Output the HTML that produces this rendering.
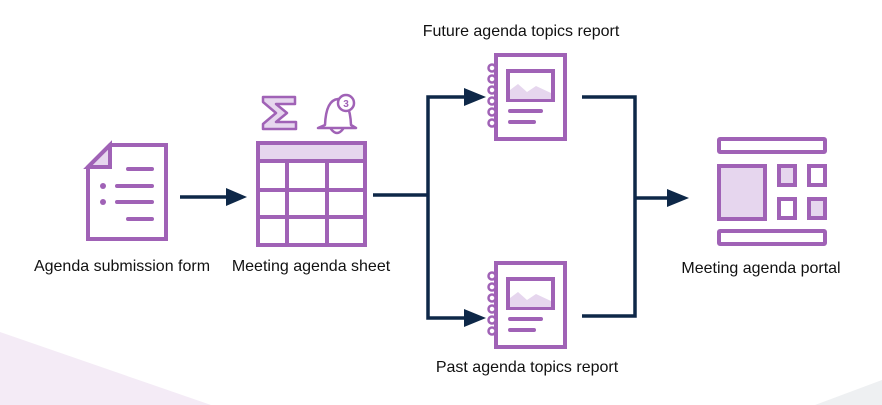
<!DOCTYPE html>
<html><head><meta charset="utf-8"><style>
html,body{margin:0;padding:0;background:#fff;}
svg{display:block;}
text{font-family:"Liberation Sans",sans-serif;font-size:16px;fill:#111;}
</style></head><body>
<svg width="882" height="405" viewBox="0 0 882 405">
<polygon points="0,332 211,405 0,405" fill="#f4ebf6"/>
<polygon points="815,405 882,380 882,405" fill="#eef0f2"/>
<g stroke="#0e2848" stroke-width="3.5" fill="none">
<line x1="180" y1="197" x2="228" y2="197"/>
<polyline points="373,195 428,195"/>
<polyline points="466,97 428,97 428,318 466,318"/>
<polyline points="582,97 635,97 635,316 582,316"/>
<line x1="635" y1="198" x2="670" y2="198"/>
</g>
<g fill="#0e2848">
<polygon points="226,188 247,197 226,206"/>
<polygon points="464,88 486,97 464,106"/>
<polygon points="464,309 486,318 464,327"/>
<polygon points="667,189 689,198 667,207"/>
</g>
<g stroke="#a062b6" stroke-width="4" fill="none" stroke-linecap="round">
<!-- document -->
<path d="M110,145 L166,145 L166,239 L88,239 L88,167 Z" fill="#fff"/>
<path d="M110,145 L110,167 L88,167 Z" fill="#e6d6ee"/>
<line x1="128" y1="169" x2="152" y2="169"/>
<line x1="117" y1="186" x2="152" y2="186"/>
<line x1="117" y1="202" x2="152" y2="202"/>
<line x1="128" y1="219" x2="152" y2="219"/>
<circle cx="103" cy="186" r="3" fill="#a062b6" stroke="none"/>
<circle cx="103" cy="202" r="3" fill="#a062b6" stroke="none"/>
<!-- sheet -->
<rect x="258" y="143" width="107" height="102" fill="#fff"/>
<rect x="258" y="143" width="107" height="18" fill="#e6d6ee"/>
<line x1="287" y1="161" x2="287" y2="245"/>
<line x1="327" y1="161" x2="327" y2="245"/>
<line x1="258" y1="190" x2="365" y2="190"/>
<line x1="258" y1="217" x2="365" y2="217"/>
<!-- sigma -->
<path d="M263,97 L295,97 L295,104 L276,104 L287,113 L276,122 L296,122 L296,129 L263,129 L263,124 L276,113 L263,102 Z" fill="#e6d6ee" stroke-width="2.5" stroke-linejoin="round"/>
<!-- bell -->
<path d="M325,125 Q326,100 338,99 Q350,100 351,125 L356,128 L318,128 Z" fill="#fff" stroke-width="2.5" stroke-linejoin="round"/>
<path d="M331,129 Q337,137 343,129" stroke-width="2.5"/>
<circle cx="346" cy="103" r="8" fill="#fff" stroke-width="2.5"/>
<!-- report top -->
<g>
<rect x="496" y="55" width="69" height="84" fill="#fff"/>
<rect x="508" y="71" width="45" height="29" fill="#fff"/>
<path d="M510,99 L510,90 L518,84 L527,92 L536,86 L551,93 L551,99 Z" fill="#e6d6ee" stroke="none"/>
<line x1="510" y1="111" x2="541" y2="111"/>
<line x1="510" y1="122" x2="534" y2="122"/>
<circle cx="492" cy="68" r="3.5" fill="#fff" stroke-width="2.5"/>
<circle cx="492" cy="79" r="3.5" fill="#fff" stroke-width="2.5"/>
<circle cx="492" cy="90" r="3.5" fill="#fff" stroke-width="2.5"/>
<circle cx="492" cy="101" r="3.5" fill="#fff" stroke-width="2.5"/>
<circle cx="492" cy="112" r="3.5" fill="#fff" stroke-width="2.5"/>
<circle cx="492" cy="123" r="3.5" fill="#fff" stroke-width="2.5"/>
</g>
<g transform="translate(0,208)">
<rect x="496" y="55" width="69" height="84" fill="#fff"/>
<rect x="508" y="71" width="45" height="29" fill="#fff"/>
<path d="M510,99 L510,90 L518,84 L527,92 L536,86 L551,93 L551,99 Z" fill="#e6d6ee" stroke="none"/>
<line x1="510" y1="111" x2="541" y2="111"/>
<line x1="510" y1="122" x2="534" y2="122"/>
<circle cx="492" cy="68" r="3.5" fill="#fff" stroke-width="2.5"/>
<circle cx="492" cy="79" r="3.5" fill="#fff" stroke-width="2.5"/>
<circle cx="492" cy="90" r="3.5" fill="#fff" stroke-width="2.5"/>
<circle cx="492" cy="101" r="3.5" fill="#fff" stroke-width="2.5"/>
<circle cx="492" cy="112" r="3.5" fill="#fff" stroke-width="2.5"/>
<circle cx="492" cy="123" r="3.5" fill="#fff" stroke-width="2.5"/>
</g>
<!-- portal -->
<rect x="719" y="139" width="106" height="13" rx="1"/>
<rect x="719" y="166" width="46" height="53" fill="#e6d6ee"/>
<rect x="779" y="166" width="16" height="19" fill="#e6d6ee"/>
<rect x="809" y="166" width="16" height="19"/>
<rect x="779" y="199" width="16" height="19"/>
<rect x="809" y="199" width="16" height="19" fill="#e6d6ee"/>
<rect x="719" y="231" width="106" height="13" rx="1"/>
</g>
<text x="346" y="107" text-anchor="middle" style="font-size:10px;font-weight:bold;fill:#a062b6">3</text>
<text x="122" y="271" text-anchor="middle">Agenda submission form</text>
<text x="311" y="271" text-anchor="middle">Meeting agenda sheet</text>
<text x="521" y="36" text-anchor="middle">Future agenda topics report</text>
<text x="527" y="372" text-anchor="middle">Past agenda topics report</text>
<text x="761" y="273" text-anchor="middle">Meeting agenda portal</text>
</svg>
</body></html>
